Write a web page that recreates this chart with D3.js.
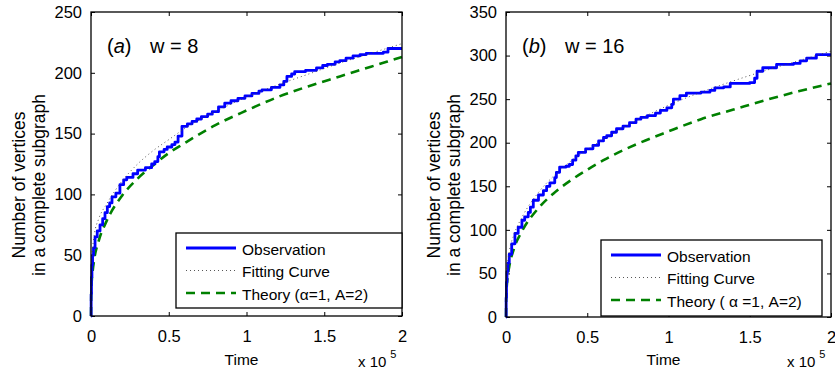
<!DOCTYPE html>
<html>
<head>
<meta charset="utf-8">
<script src="https://cdn.jsdelivr.net/npm/d3@7"></script>
<style>
body { margin: 0; background: #fff; }
text { font-family: "Liberation Sans", Arial, sans-serif; fill: #000; }
</style>
</head>
<body>
<div id="chart"></div>
<script>
// time in units of 1e5
let xTicks = [0, 0.5, 1, 1.5, 2];
let yTicksA = [0, 50, 100, 150, 200, 250];
let yTicksB = [0, 50, 100, 150, 200, 250, 300, 350];

// panel (a) w = 8
let obsA = [[0,0],[0.001,18],[0.003,32],[0.006,42],[0.01,50],[0.016,56],[0.026,65],[0.04,70],[0.058,75],[0.075,80],[0.09,85],[0.105,90],[0.12,93],[0.135,98],[0.16,101],[0.186,108],[0.21,112],[0.23,114],[0.27,117],[0.3,120],[0.35,122],[0.39,125],[0.41,127],[0.43,131],[0.44,135],[0.47,137],[0.49,139],[0.52,141],[0.54,143],[0.56,148],[0.585,156],[0.62,158],[0.65,160],[0.68,162],[0.71,164],[0.75,166],[0.78,168],[0.82,172],[0.86,175],[0.9,177],[0.945,179],[0.99,181],[1.035,183],[1.08,185],[1.1,186],[1.16,188],[1.215,190],[1.24,193],[1.26,197],[1.29,199],[1.31,201],[1.38,202],[1.45,204],[1.49,206],[1.52,207],[1.57,209],[1.6,210],[1.64,212],[1.685,214],[1.73,215],[1.77,216],[1.88,217],[1.91,220],[2,220]];
let fitA = [[0,0],[0.002,34],[0.005,45],[0.01,55],[0.02,66],[0.05,80],[0.1,92],[0.2,111],[0.3,125],[0.4,136],[0.5,145],[0.6,154],[0.8,168],[1.0,180],[1.2,190],[1.4,199],[1.6,208],[1.8,216],[2.0,224]];
let theoryA = [[0,0],[0.002,21],[0.005,29],[0.01,36],[0.02,46],[0.05,62],[0.1,78],[0.2,99],[0.3,113],[0.4,124],[0.5,134],[0.6,142],[0.8,157],[1.0,169],[1.2,180],[1.4,189],[1.6,197],[1.8,205],[2.0,213]];

// panel (b) w = 16
let obsB = [[0,0],[0.001,22],[0.003,40],[0.006,52],[0.012,62],[0.02,72],[0.035,84],[0.055,96],[0.075,103],[0.098,111],[0.115,115],[0.137,120],[0.15,126],[0.168,134],[0.2,140],[0.23,145],[0.25,150],[0.27,154],[0.3,160],[0.31,166],[0.33,172],[0.37,173],[0.39,175],[0.41,180],[0.43,185],[0.445,189],[0.49,193],[0.535,197],[0.57,202],[0.6,206],[0.62,208],[0.65,212],[0.68,216],[0.72,219],[0.76,223],[0.8,227],[0.83,229],[0.87,231],[0.92,234],[0.95,237],[0.99,240],[1.02,244],[1.03,250],[1.07,254],[1.11,257],[1.2,258],[1.255,260],[1.285,263],[1.34,264],[1.38,268],[1.5,269],[1.53,274],[1.545,282],[1.58,286],[1.665,290],[1.77,291],[1.81,294],[1.85,297],[1.91,301],[2,301]];
let fitB = [[0,0],[0.002,38],[0.005,50],[0.01,62],[0.02,75],[0.05,95],[0.1,115],[0.2,143],[0.3,163],[0.4,179],[0.5,192],[0.6,204],[0.8,225],[1.0,243],[1.2,258],[1.4,271],[1.6,283],[1.8,294],[2.0,305]];
let theoryB = [[0,0],[0.002,27],[0.005,36],[0.01,46],[0.02,58],[0.05,79],[0.1,99],[0.2,125],[0.3,143],[0.4,157],[0.5,169],[0.6,180],[0.8,198],[1.0,213],[1.2,227],[1.4,238],[1.6,249],[1.8,259],[2.0,268]];

let svg = d3.select("#chart").append("svg")
	.attr("width", 835)
	.attr("height", 380);

svg.append("rect")
	.attr("width", 835)
	.attr("height", 380)
	.attr("fill", "white");

function drawPanel(p){
	let x = d3.scaleLinear().domain([0, 2]).range([p.left, p.right]);
	let y = d3.scaleLinear().domain([0, p.ymax]).range([p.bottom, p.top]);
	let g = svg.append("g");

	// inside ticks, MATLAB style, on all four sides
	g.append("g")
		.attr("transform", `translate(0,${p.bottom})`)
		.call(d3.axisBottom(x).tickValues(xTicks).tickFormat(d3.format("")).tickSizeInner(-4).tickSizeOuter(0).tickPadding(14))
		.call(a => a.select(".domain").remove())
		.call(a => a.selectAll("text").attr("font-size", 16.5).attr("font-family", "Liberation Sans, Arial, sans-serif"));
	g.append("g")
		.attr("transform", `translate(0,${p.top})`)
		.call(d3.axisTop(x).tickValues(xTicks).tickFormat("").tickSizeInner(-4).tickSizeOuter(0))
		.call(a => a.select(".domain").remove());
	g.append("g")
		.attr("transform", `translate(${p.left},0)`)
		.call(d3.axisLeft(y).tickValues(p.yTicks).tickSizeInner(-4).tickSizeOuter(0).tickPadding(9))
		.call(a => a.select(".domain").remove())
		.call(a => a.selectAll("text").attr("font-size", 16.5).attr("font-family", "Liberation Sans, Arial, sans-serif"));
	g.append("g")
		.attr("transform", `translate(${p.right},0)`)
		.call(d3.axisRight(y).tickValues(p.yTicks).tickFormat("").tickSizeInner(-4).tickSizeOuter(0))
		.call(a => a.select(".domain").remove());

	let plot = g.append("g");

	let smooth = d3.line().x(d => x(d[0])).y(d => y(d[1])).curve(d3.curveMonotoneX);
	let step = d3.line().x(d => x(d[0])).y(d => y(d[1])).curve(d3.curveStepAfter);

	plot.append("path")
		.attr("d", smooth(p.theory))
		.attr("fill", "none")
		.attr("stroke", "#008000")
		.attr("stroke-width", 2.6)
		.attr("stroke-dasharray", "9,6");

	plot.append("path")
		.attr("d", step(p.obs))
		.attr("fill", "none")
		.attr("stroke", "#0000ff")
		.attr("stroke-width", 2.8)
		.attr("stroke-linejoin", "round");

	plot.append("path")
		.attr("d", smooth(p.fit))
		.attr("fill", "none")
		.attr("stroke", "#444")
		.attr("stroke-width", 0.9)
		.attr("stroke-dasharray", "1,3");

	// axes box
	g.append("rect")
		.attr("x", p.left)
		.attr("y", p.top)
		.attr("width", p.right - p.left)
		.attr("height", p.bottom - p.top)
		.attr("fill", "none")
		.attr("stroke", "#000")
		.attr("stroke-width", 1.3);

	// legend
	let lg = g.append("g");
	lg.append("rect")
		.attr("x", p.legend[0])
		.attr("y", p.legend[1])
		.attr("width", p.legend[2])
		.attr("height", p.legend[3])
		.attr("fill", "white")
		.attr("stroke", "#000")
		.attr("stroke-width", 1.3);
	let items = [
		{label: "Observation", color: "#0000ff", width: 2.8, dash: null},
		{label: "Fitting Curve", color: "#444", width: 0.9, dash: "1,3"},
		{label: p.theoryLabel, color: "#008000", width: 2.6, dash: "9,6"}
	];
	items.forEach((it, i) => {
		let yy = p.legend[1] + 15 + i * 22.5;
		lg.append("line")
			.attr("x1", p.legend[0] + 10)
			.attr("x2", p.legend[0] + 60)
			.attr("y1", yy)
			.attr("y2", yy)
			.attr("stroke", it.color)
			.attr("stroke-width", it.width)
			.attr("stroke-dasharray", it.dash);
		lg.append("text")
			.attr("x", p.legend[0] + 66)
			.attr("y", yy + 6.5)
			.attr("font-size", 15.5)
			.text(it.label);
	});

	// panel label
	let lab = g.append("text")
		.attr("x", p.left + 16)
		.attr("y", 53)
		.attr("font-size", 20);
	lab.append("tspan").text("(");
	lab.append("tspan").attr("font-style", "italic").text(p.letter);
	lab.append("tspan").text(")");
	g.append("text")
		.attr("x", p.left + 59)
		.attr("y", 53)
		.attr("font-size", 20)
		.text(p.wLabel);

	// axis titles
	g.append("text")
		.attr("x", (p.left + p.right) / 2 - 5)
		.attr("y", 365)
		.attr("text-anchor", "middle")
		.attr("font-size", 15.5)
		.text("Time");

	let ex = g.append("text")
		.attr("x", p.right - 44)
		.attr("y", 367)
		.attr("font-size", 15);
	ex.append("tspan").text("x 10");
	ex.append("tspan").attr("dy", -9).attr("dx", 4).attr("font-size", 11).text("5");

	let yl = g.append("text")
		.attr("transform", `translate(${p.left - 66},185) rotate(-90)`)
		.attr("text-anchor", "middle")
		.attr("font-size", 17.5);
	yl.append("tspan").attr("x", 0).attr("dy", 0).text("Number of vertices");
	yl.append("tspan").attr("x", 0).attr("dy", 19.5).text("in a complete subgraph");
}

drawPanel({
	left: 91, right: 402, top: 12, bottom: 316, ymax: 250,
	yTicks: yTicksA, obs: obsA, fit: fitA, theory: theoryA,
	legend: [176, 233, 226, 75],
	theoryLabel: "Theory (α=1, A=2)",
	letter: "a", wLabel: "w = 8"
});

drawPanel({
	left: 506, right: 831, top: 12, bottom: 317, ymax: 350,
	yTicks: yTicksB, obs: obsB, fit: fitB, theory: theoryB,
	legend: [601, 240, 221, 76],
	theoryLabel: "Theory ( α =1, A=2)",
	letter: "b", wLabel: "w = 16"
});
</script>
</body>
</html>
